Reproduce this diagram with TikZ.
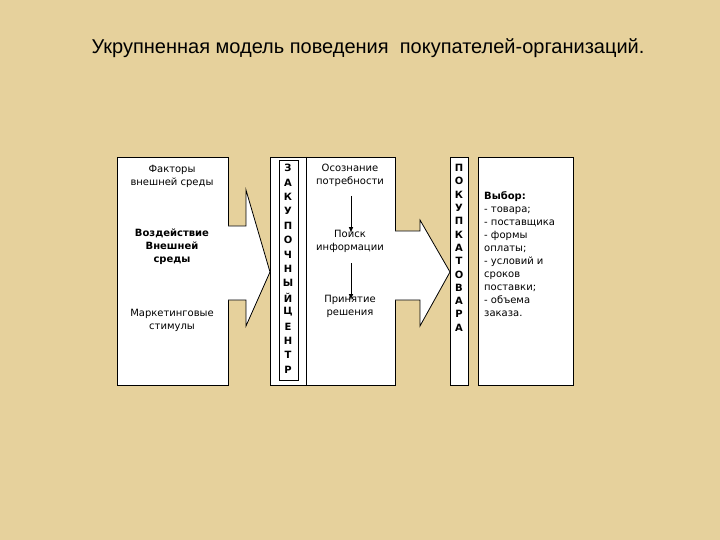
\documentclass[tikz,border=0pt]{standalone}
\usepackage{fontspec}
\setmainfont{DejaVu Sans}
\newfontfamily\titlefont{Liberation Sans}
\definecolor{bg}{HTML}{E6D19C}
\tikzset{box/.style={draw=black,fill=white,line width=0.8pt},
 txt/.style={font=\fontsize{10}{13}\selectfont,align=center},
 let/.style={font=\fontsize{10}{11}\selectfont\bfseries},
 fl/.style={-latex,line width=1pt}}
\begin{document}
\begin{tikzpicture}[x=1pt,y=-1pt]
\fill[bg] (0,0) rectangle (720,540);
\useasboundingbox (0,0) rectangle (720,540);
\node[font=\titlefont\fontsize{20}{22}\selectfont] (title) at (368,48) {Укрупненная модель поведения\ \ покупателей-организаций.};
% left box
\draw[box] (117,157) rectangle (228,385);
\node[txt] (f1) at (172,176) {Факторы\\внешней среды};
\node[txt,font=\fontsize{10}{13}\selectfont\bfseries] (f2) at (172,247) {Воздействие\\Внешней\\среды};
\node[txt] (f3) at (172,320) {Маркетинговые\\стимулы};
% arrow 1
\draw[box] (228,226) -- (246,226) -- (246,190) -- (270,272) -- (246,326) -- (246,300) -- (228,300);
\fill[white] (226,227) rectangle (229,299);
% big box
\draw[box] (270,157) rectangle (395,385);
\draw[line width=0.8pt] (279,160) rectangle (298,380);
\draw[line width=0.8pt] (306,157) -- (306,385);
\foreach \c [count=\i from 0] in {З,А,К,У,П,О,Ч,Н,Ы,Й,Ц,Е,Н,Т,Р}
  \node[let] at (288,168+14.4*\i) {\c};
\node[txt] (s1) at (350,175) {Осознание\\потребности};
\node[txt] (s2) at (350,241) {Поиск\\информации};
\node[txt] (s3) at (350,306) {Принятие\\решения};
\draw[fl] (351,196) -- (351,233);
\draw[fl] (351,263) -- (351,300);
% arrow 2
\draw[box] (395,231) -- (420,231) -- (420,220) -- (450,272) -- (420,326) -- (420,300) -- (395,300);
\fill[white] (393,232) rectangle (396,299);
% narrow box
\draw[box] (450,157) rectangle (468,385);
\foreach \c [count=\i from 0] in {П,О,К,У,П,К,А,Т,О,В,А,Р,А}
  \node[let] at (459,168+13.3*\i) {\c};
% right box
\draw[box] (478,157) rectangle (573,385);
\node[font=\fontsize{10}{13}\selectfont,align=left,anchor=north west,inner sep=0pt] (choice) at (484,191) {\textbf{Выбор:}\\- товара;\\- поставщика\\- формы\\оплаты;\\- условий и\\сроков\\поставки;\\- объема\\заказа.};
\end{tikzpicture}
\end{document}
